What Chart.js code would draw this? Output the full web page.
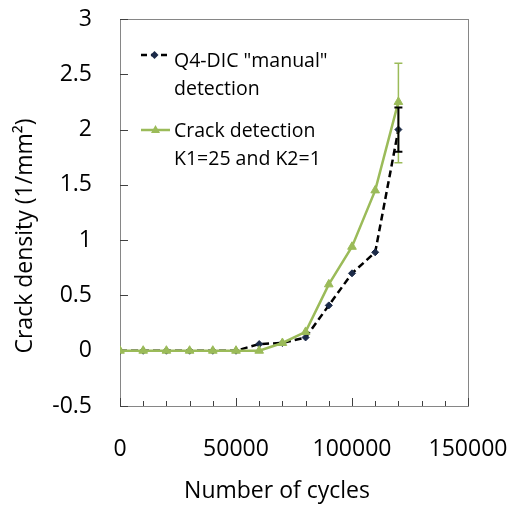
<!DOCTYPE html>
<html>
<head>
<meta charset="utf-8">
<script src="https://cdn.jsdelivr.net/npm/chart.js"></script>
<style>
  html, body { margin: 0; padding: 0; background: #fff; }
  #chart { display: block; }
</style>
</head>
<body>
<canvas id="chart" width="512" height="509"></canvas>
<script>
// Data
const cycles = [0, 10000, 20000, 30000, 40000, 50000, 60000, 70000, 80000, 90000, 100000, 110000, 120000];
const dicDensity = [0, 0, 0, 0, 0, 0, 0.06, 0.07, 0.12, 0.41, 0.70, 0.89, 2.0];
const crackDensity = [0, 0, 0, 0, 0, 0, 0, 0.07, 0.17, 0.60, 0.94, 1.45, 2.25];
// error bars (only last point has them)
const dicErrPlus = [0, 0, 0, 0, 0, 0, 0, 0, 0, 0, 0, 0, 0.2];
const dicErrMinus = [0, 0, 0, 0, 0, 0, 0, 0, 0, 0, 0, 0, 0.2];
const crackErrPlus = [0, 0, 0, 0, 0, 0, 0, 0, 0, 0, 0, 0, 0.35];
const crackErrMinus = [0, 0, 0, 0, 0, 0, 0, 0, 0, 0, 0, 0, 0.55];

const dicLabel = ['Q4-DIC "manual"', 'detection'];
const crackLabel = ['Crack detection', 'K1=25 and K2=1'];
const xTicks = [0, 50000, 100000, 150000];
const xMinorTicks = [10000, 20000, 30000, 40000, 60000, 70000, 80000, 90000, 110000, 120000, 130000, 140000];
const yTicks = [-0.5, 0, 0.5, 1, 1.5, 2, 2.5, 3];
const xTitle = 'Number of cycles';
const yTitle = 'Crack density (1/mm\u00B2)';

const FONT = '"Open Sans", "DejaVu Sans", sans-serif';
const BLACK = '#000000';
const MARKER = '#1B2A48';
const GREEN = '#9BBB59';
const AXIS = '#868686';

function toPoints(ys) {
    return cycles.map((c, i) => ({ x: c, y: ys[i] }));
}

function noPadding(scale) {
    scale.paddingTop = 0;
    scale.paddingBottom = 0;
    scale.paddingLeft = 0;
    scale.paddingRight = 0;
}

function diamond(ctx, x, y, r, color) {
    ctx.beginPath();
    ctx.moveTo(x, y - r);
    ctx.lineTo(x + r, y);
    ctx.lineTo(x, y + r);
    ctx.lineTo(x - r, y);
    ctx.closePath();
    ctx.fillStyle = color;
    ctx.fill();
}

function triangle(ctx, x, y, r, color) {
    ctx.beginPath();
    ctx.moveTo(x, y - r);
    ctx.lineTo(x + r * 0.9, y + r * 0.6);
    ctx.lineTo(x - r * 0.9, y + r * 0.6);
    ctx.closePath();
    ctx.fillStyle = color;
    ctx.fill();
}

function errorBar(chart, ys, plus, minus, color, width) {
    const ctx = chart.ctx;
    const xs = chart.scales.x, ys_ = chart.scales.y;
    ctx.save();
    ctx.strokeStyle = color;
    ctx.lineWidth = width;
    ys.forEach((v, i) => {
        if (!plus[i] && !minus[i]) return;
        const px = xs.getPixelForValue(cycles[i]);
        const top = ys_.getPixelForValue(v + plus[i]);
        const bot = ys_.getPixelForValue(v - minus[i]);
        ctx.beginPath();
        ctx.moveTo(px, top); ctx.lineTo(px, bot);
        ctx.moveTo(px - 4, top); ctx.lineTo(px + 4, top);
        ctx.moveTo(px - 4, bot); ctx.lineTo(px + 4, bot);
        ctx.stroke();
    });
    ctx.restore();
}

const decorations = {
    id: 'decorations',
    beforeDatasetsDraw(chart) {
        const ctx = chart.ctx;
        const a = chart.chartArea;
        const xs = chart.scales.x, ys = chart.scales.y;
        ctx.save();
        // plot box
        ctx.strokeStyle = AXIS;
        ctx.lineWidth = 1;
        ctx.strokeRect(Math.round(a.left) + 0.5, Math.round(a.top) + 0.5,
            Math.round(a.right - a.left), Math.round(a.bottom - a.top));
        // tick marks, pointing inside
        ctx.strokeStyle = '#404040';
        ctx.beginPath();
        yTicks.forEach(v => {
            const py = Math.round(ys.getPixelForValue(v)) + 0.5;
            ctx.moveTo(a.left, py); ctx.lineTo(a.left + 8, py);
        });
        xTicks.forEach(v => {
            const px = Math.round(xs.getPixelForValue(v)) + 0.5;
            ctx.moveTo(px, a.bottom); ctx.lineTo(px, a.bottom - 8);
        });
        xMinorTicks.forEach(v => {
            const px = Math.round(xs.getPixelForValue(v)) + 0.5;
            ctx.moveTo(px, a.bottom); ctx.lineTo(px, a.bottom - 5);
        });
        ctx.stroke();
        ctx.restore();
    },
    afterDatasetsDraw(chart) {
        errorBar(chart, crackDensity, crackErrPlus, crackErrMinus, GREEN, 1.5);
        errorBar(chart, dicDensity, dicErrPlus, dicErrMinus, BLACK, 2);
    },
    afterDraw(chart) {
        const ctx = chart.ctx;
        ctx.save();
        ctx.fillStyle = '#000';
        ctx.font = '23px ' + FONT;
        ctx.textAlign = 'center';
        // x axis title
        ctx.textBaseline = 'alphabetic';
        ctx.fillText(xTitle, 277, 498);
        // y axis title
        ctx.textBaseline = 'middle';
        ctx.translate(25, 236);
        ctx.rotate(-Math.PI / 2);
        ctx.fillText(yTitle, 0, 0);
        ctx.restore();

        // legend
        ctx.save();
        ctx.lineWidth = 2.5;
        ctx.strokeStyle = BLACK;
        ctx.setLineDash([6, 4]);
        ctx.beginPath();
        ctx.moveTo(141, 55); ctx.lineTo(168, 55);
        ctx.stroke();
        ctx.setLineDash([]);
        diamond(ctx, 154.5, 55, 4, MARKER);
        ctx.strokeStyle = GREEN;
        ctx.beginPath();
        ctx.moveTo(141, 130); ctx.lineTo(170, 130);
        ctx.stroke();
        triangle(ctx, 155.5, 130, 5, GREEN);

        ctx.fillStyle = '#000';
        ctx.font = '19.5px ' + FONT;
        ctx.textAlign = 'left';
        ctx.textBaseline = 'alphabetic';
        ctx.fillText(dicLabel[0], 174, 67);
        ctx.fillText(dicLabel[1], 174, 95);
        ctx.fillText(crackLabel[0], 174, 137);
        ctx.fillText(crackLabel[1], 174, 165);
        ctx.restore();
    }
};

new Chart(document.getElementById('chart'), {
    type: 'line',
    data: {
        datasets: [{
            label: dicLabel.join(' '),
            data: toPoints(dicDensity),
            borderColor: BLACK,
            borderWidth: 2.5,
            borderDash: [7, 4],
            pointStyle: 'rectRot',
            pointRadius: 3.5,
            pointBackgroundColor: MARKER,
            pointBorderColor: MARKER,
            pointBorderWidth: 1,
            tension: 0,
            order: 1
        }, {
            label: crackLabel.join(' '),
            data: toPoints(crackDensity),
            borderColor: GREEN,
            borderWidth: 2.5,
            pointStyle: 'triangle',
            pointRadius: 5,
            pointBackgroundColor: GREEN,
            pointBorderColor: GREEN,
            pointBorderWidth: 1,
            tension: 0,
            order: 0
        }]
    },
    options: {
        responsive: false,
        animation: false,
        layout: { padding: { left: 0, top: 19, right: 44, bottom: 0 } },
        plugins: {
            legend: { display: false },
            tooltip: { enabled: false }
        },
        scales: {
            x: {
                type: 'linear',
                min: 0,
                max: 150000,
                afterBuildTicks: scale => { scale.ticks = xTicks.map(v => ({ value: v })); },
                afterFit: scale => { scale.height = 103; noPadding(scale); },
                grid: { display: false, drawTicks: false },
                border: { display: false },
                ticks: {
                    color: '#000',
                    font: { family: FONT, size: 23 },
                    padding: 30,
                    maxRotation: 0,
                    callback: v => String(v)
                }
            },
            y: {
                type: 'linear',
                min: -0.5,
                max: 3,
                afterBuildTicks: scale => { scale.ticks = yTicks.map(v => ({ value: v })); },
                afterFit: scale => { scale.width = 120; noPadding(scale); },
                grid: { display: false, drawTicks: false },
                border: { display: false },
                ticks: {
                    color: '#000',
                    font: { family: FONT, size: 23 },
                    padding: 28,
                    callback: v => String(v)
                }
            }
        }
    },
    plugins: [decorations]
});
</script>
</body>
</html>
